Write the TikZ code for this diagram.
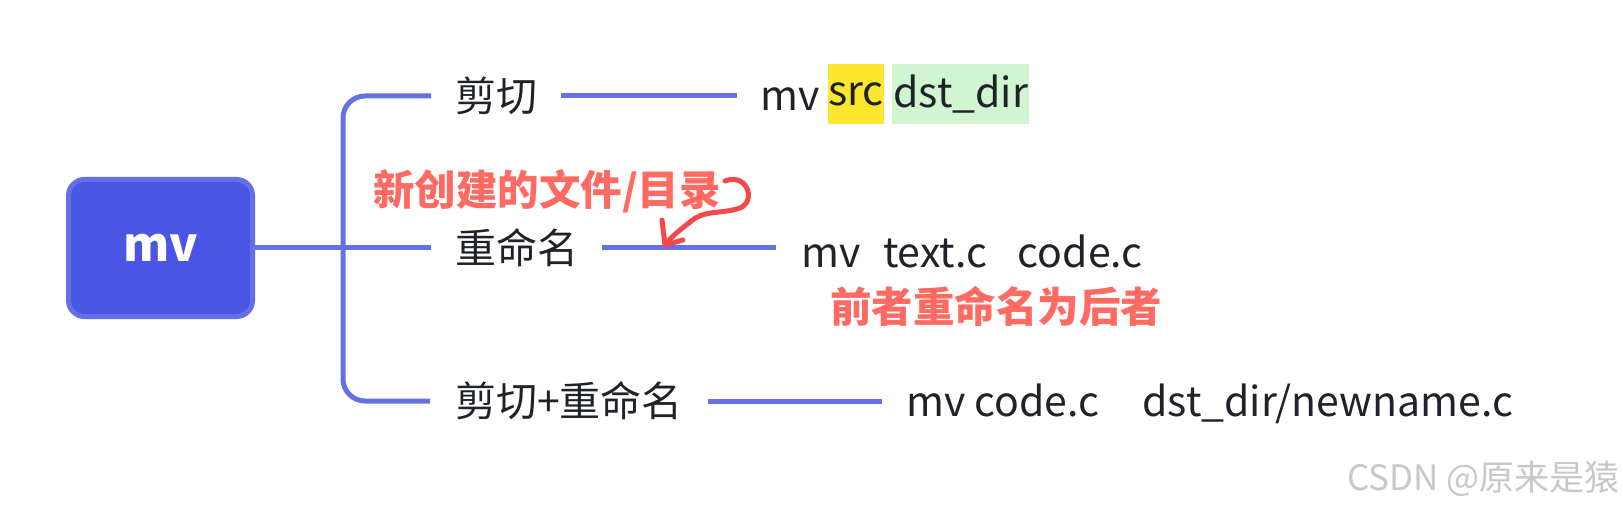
\documentclass[tikz,border=0pt]{standalone}
\usepackage{fontspec}
\setmainfont{Noto Sans CJK SC}
\definecolor{branchcol}{HTML}{6470E6}
\definecolor{rootfill}{HTML}{4A55E3}
\definecolor{rootdraw}{HTML}{6470E6}
\definecolor{txtcol}{HTML}{1F2329}
\definecolor{redtxt}{HTML}{FF6A62}
\definecolor{redpen}{HTML}{F5484A}
\definecolor{hlyellow}{HTML}{FCE62E}
\definecolor{hlgreen}{HTML}{D0F5D0}
\definecolor{wmcol}{HTML}{C8C8C8}
\begin{document}
\begin{tikzpicture}[x=1pt,y=-1pt,
  rootbox/.style={draw=rootdraw, fill=rootfill, line width=5pt, rounded corners=16pt,
    minimum width=184pt, minimum height=137pt, text=white,
    font=\fontsize{47}{50}\selectfont\bfseries},
  label/.style={anchor=west, inner xsep=24pt, inner ysep=0pt, text=txtcol,
    font=\fontsize{41}{46}\selectfont},
  cmd/.style={anchor=west, inner xsep=0pt, inner ysep=0pt, text=txtcol,
    font=\fontsize{41}{46}\selectfont},
  hl/.style={anchor=west, inner sep=0pt, minimum height=60pt, text=txtcol,
    font=\fontsize{41}{46}\selectfont},
  note/.style={inner sep=0pt, text=redtxt, font=\fontsize{41.5}{46}\selectfont\bfseries},
  conn/.style={draw=branchcol, line width=5pt},
  pen/.style={draw=redpen, line width=5pt, line cap=round, line join=round}
]
\useasboundingbox (0,0) rectangle (1623,505);

\node[rootbox] (root) at (160.5,248) {mv};

\node[label] (l1) at (431,96) {\raisebox{-2pt}{剪切}};
\node[label] (l2) at (431,248) {\raisebox{-2pt}{重命名}};
\node[label, inner xsep=25pt] (l3) at (430,401) {\raisebox{-2pt}{剪切+重命名}};

\coordinate (jn) at (343,248);
\draw[conn, rounded corners=22pt] (l1.west) -| (jn) |- (l3.west);
\draw[conn] (root.east) -- (l2.west);

% branch 1
\node[cmd] (r1) at (760,99) {mv};
\node[hl, fill=hlyellow, minimum width=55pt] (src) at (828,94) {\raisebox{-3pt}{src}};
\node[hl, fill=hlgreen, minimum width=137pt] (dst) at (892,94) {\raisebox{-3pt}{dst\_dir}};
\coordinate (r1in) at (737,96);
\draw[conn] (l1.east) -- (r1in);

% branch 2
\node[cmd] (r2) at (801,251) {mv\hspace{0.55em}text.c\hspace{0.75em}code.c};
\coordinate (r2in) at (776,248);
\draw[conn] (l2.east) -- (r2in);

% branch 3
\node[cmd] (r3) at (906,404) {mv code.c\hspace{1.05em}dst\_dir/newname.c};
\coordinate (r3in) at (882,401);
\draw[conn] (l3.east) -- (r3in);

% notes
\node[note] (n1) at (547,191) {新创建的文件/目录};
\node[note] (n2) at (996,306) {前者重命名为后者};

% hand-drawn arrow
\coordinate (pa) at (725,181);
\coordinate (pb) at (737,209);
\coordinate (tip) at (665,245);
\draw[pen] (pa) .. controls (748,172) and (758,204) .. (pb)
  .. controls (718,214) and (704,210) .. (690,222)
  .. controls (680,230) and (672,236) .. (tip);
\draw[pen] (662,220) -- (tip) -- (683,240);

% watermark
\node[anchor=east, inner sep=0pt, text=wmcol, font=\fontsize{35}{38}\selectfont] (wm) at (1620,479) {CSDN @原来是猿};
\end{tikzpicture}
\end{document}
